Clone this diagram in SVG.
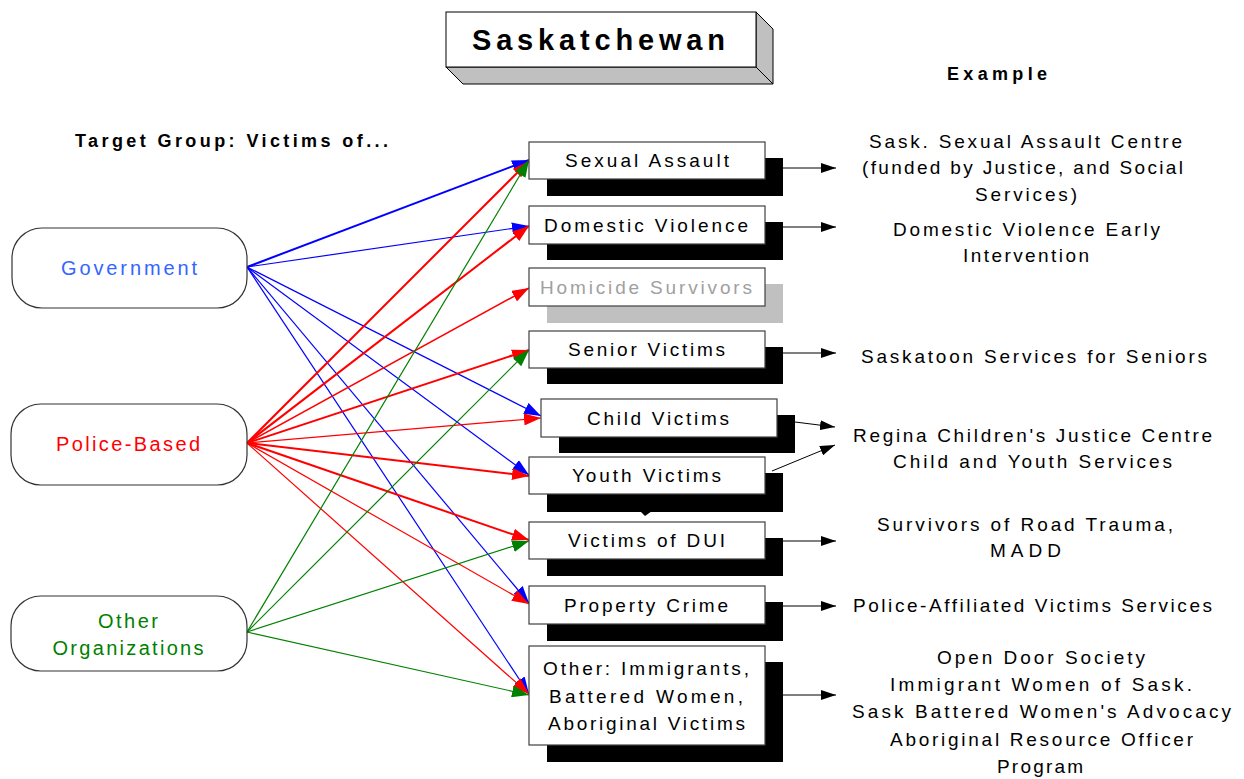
<svg xmlns="http://www.w3.org/2000/svg" width="1244" height="779" viewBox="0 0 1244 779">
  <style>
    text { font-family: "Liberation Sans", Arial, sans-serif; fill: #000; }
    .lbl { font-size: 19px; text-anchor: middle; }
    .src { font-size: 20px; text-anchor: middle; }
    .hdr { font-size: 18px; font-weight: bold; }
    .box { fill: #fff; stroke: #404040; stroke-width: 1.2; }
    .shadow { fill: #000; }
    .pill { fill: #fff; stroke: #333; stroke-width: 1.2; }
    .blue { stroke: #0000ff; fill: none; }
    .red { stroke: #ff0000; fill: none; }
    .green { stroke: #008000; fill: none; }
    .thin { stroke-width: 1.2; }
    .mid { stroke-width: 1.5; }
    .thick { stroke-width: 2; }
    .out { stroke: #000; stroke-width: 1; fill: none; marker-end: url(#ah-black); }
  </style>
  <defs>
    <marker id="ah-blue" markerUnits="userSpaceOnUse" markerWidth="17" markerHeight="12" refX="17" refY="6" orient="auto">
      <path d="M0,0 L17,6 L0,12 z" fill="#0000ff"/>
    </marker>
    <marker id="ah-red" markerUnits="userSpaceOnUse" markerWidth="17" markerHeight="12" refX="17" refY="6" orient="auto">
      <path d="M0,0 L17,6 L0,12 z" fill="#ff0000"/>
    </marker>
    <marker id="ah-green" markerUnits="userSpaceOnUse" markerWidth="17" markerHeight="12" refX="17" refY="6" orient="auto">
      <path d="M0,0 L17,6 L0,12 z" fill="#008000"/>
    </marker>
    <marker id="ah-black" markerUnits="userSpaceOnUse" markerWidth="15" markerHeight="10" refX="15" refY="5" orient="auto">
      <path d="M0,0 L15,5 L0,10 z" fill="#000"/>
    </marker>
  </defs>

  <rect width="1244" height="779" fill="#fff"/>

  <!-- Title block with bevelled depth -->
  <g id="title">
    <polygon points="446,67 756,67 773,84 463,84" fill="#c0c0c0" stroke="#000" stroke-width="1"/>
    <polygon points="756,12 773,29 773,84 756,67" fill="#c0c0c0" stroke="#000" stroke-width="1"/>
    <rect x="446" y="12" width="310" height="55" fill="#fff" stroke="#000" stroke-width="1"/>
    <text x="598.5" y="50" font-size="29" font-weight="bold" text-anchor="middle" textLength="253" lengthAdjust="spacing">Saskatchewan</text>
  </g>

  <!-- Column headings -->
  <g id="headings">
    <text class="hdr" x="75" y="147" textLength="313" lengthAdjust="spacing">Target Group: Victims of...</text>
    <text class="hdr" x="947" y="80" textLength="100" lengthAdjust="spacing">Example</text>
  </g>

  <!-- Connectors -->
  <g id="connectors">
    <!-- Government -->
    <line class="blue thick" x1="247" y1="267" x2="529" y2="160" marker-end="url(#ah-blue)"/>
    <line class="blue thin" x1="247" y1="267" x2="529" y2="226" marker-end="url(#ah-blue)"/>
    <line class="blue thin" x1="247" y1="267" x2="541" y2="416" marker-end="url(#ah-blue)"/>
    <line class="blue thin" x1="247" y1="267" x2="529" y2="475" marker-end="url(#ah-blue)"/>
    <line class="blue thin" x1="247" y1="267" x2="529" y2="603" marker-end="url(#ah-blue)"/>
    <line class="blue thin" x1="247" y1="267" x2="529" y2="694" marker-end="url(#ah-blue)"/>
    <!-- Police-Based -->
    <line class="red thick" x1="247" y1="443" x2="529" y2="161" marker-end="url(#ah-red)"/>
    <line class="red thick" x1="247" y1="443" x2="529" y2="226" marker-end="url(#ah-red)"/>
    <line class="red mid" x1="247" y1="443" x2="529" y2="288" marker-end="url(#ah-red)"/>
    <line class="red thick" x1="247" y1="443" x2="529" y2="350" marker-end="url(#ah-red)"/>
    <line class="red thin" x1="247" y1="443" x2="541" y2="418" marker-end="url(#ah-red)"/>
    <line class="red thick" x1="247" y1="443" x2="529" y2="476" marker-end="url(#ah-red)"/>
    <line class="red thick" x1="247" y1="443" x2="529" y2="540" marker-end="url(#ah-red)"/>
    <line class="red thin" x1="247" y1="443" x2="529" y2="604" marker-end="url(#ah-red)"/>
    <line class="red thin" x1="247" y1="443" x2="529" y2="694" marker-end="url(#ah-red)"/>
    <!-- Other Organizations -->
    <line class="green thin" x1="247" y1="632" x2="529" y2="160" marker-end="url(#ah-green)"/>
    <line class="green thin" x1="247" y1="632" x2="529" y2="350" marker-end="url(#ah-green)"/>
    <line class="green thin" x1="247" y1="632" x2="529" y2="541" marker-end="url(#ah-green)"/>
    <line class="green thin" x1="247" y1="632" x2="529" y2="695" marker-end="url(#ah-green)"/>
    <!-- To examples -->
    <line class="out" x1="783" y1="168" x2="836" y2="168"/>
    <line class="out" x1="783" y1="227" x2="836" y2="227"/>
    <line class="out" x1="783" y1="353" x2="836" y2="353"/>
    <line class="out" x1="795" y1="422" x2="835" y2="427"/>
    <line class="out" x1="772" y1="471" x2="835" y2="445"/>
    <line class="out" x1="783" y1="541" x2="836" y2="541"/>
    <line class="out" x1="783" y1="606" x2="836" y2="606"/>
    <line class="out" x1="783" y1="695" x2="836" y2="695"/>
  </g>

  <!-- Source nodes -->
  <g id="government">
    <rect class="pill" x="12" y="228" width="235" height="80" rx="30" ry="30"/>
    <text class="src" x="129" y="275" style="fill:#3366ff" textLength="136" lengthAdjust="spacing">Government</text>
  </g>
  <g id="police-based">
    <rect class="pill" x="11" y="404" width="236" height="81" rx="30" ry="30"/>
    <text class="src" x="128" y="451" style="fill:#ff0000" textLength="144" lengthAdjust="spacing">Police-Based</text>
  </g>
  <g id="other-organizations">
    <rect class="pill" x="11" y="596" width="236" height="75" rx="30" ry="30"/>
    <text class="src" x="128" y="628" style="fill:#008000" textLength="60" lengthAdjust="spacing">Other</text>
    <text class="src" x="128" y="655" style="fill:#008000" textLength="151" lengthAdjust="spacing">Organizations</text>
  </g>

  <!-- Target groups -->
  <g id="sexual-assault">
    <rect class="shadow" x="547" y="158" width="236" height="38"/>
    <rect class="box" x="529" y="142" width="236" height="37"/>
    <text class="lbl" x="647" y="167" textLength="164" lengthAdjust="spacing">Sexual Assault</text>
  </g>
  <g id="domestic-violence">
    <rect class="shadow" x="547" y="222" width="236" height="38"/>
    <rect class="box" x="529" y="206" width="236" height="38"/>
    <text class="lbl" x="646" y="232" textLength="204" lengthAdjust="spacing">Domestic Violence</text>
  </g>
  <g id="homicide-survivors">
    <rect x="547" y="284" width="236" height="39" fill="#c0c0c0"/>
    <rect class="box" x="529" y="268" width="236" height="38"/>
    <text class="lbl" x="646" y="294" style="fill:#a0a0a0" textLength="212" lengthAdjust="spacing">Homicide Survivors</text>
  </g>
  <g id="senior-victims">
    <rect class="shadow" x="547" y="347" width="236" height="37"/>
    <rect class="box" x="529" y="331" width="236" height="37"/>
    <text class="lbl" x="646.5" y="356" textLength="157" lengthAdjust="spacing">Senior Victims</text>
  </g>
  <g id="child-victims">
    <rect class="shadow" x="559" y="415" width="236" height="38"/>
    <rect class="box" x="541" y="399" width="236" height="38"/>
    <text class="lbl" x="658" y="425" textLength="142" lengthAdjust="spacing">Child Victims</text>
  </g>
  <g id="youth-victims">
    <rect class="shadow" x="547" y="473" width="236" height="39"/>
    <polygon points="640,511 652,511 645,516" fill="#000"/>
    <rect class="box" x="529" y="457" width="236" height="37"/>
    <text class="lbl" x="646.5" y="482" textLength="149" lengthAdjust="spacing">Youth Victims</text>
  </g>
  <g id="victims-of-dui">
    <rect class="shadow" x="547" y="538" width="236" height="38"/>
    <rect class="box" x="529" y="522" width="236" height="37"/>
    <text class="lbl" x="646.5" y="547" textLength="157" lengthAdjust="spacing">Victims of DUI</text>
  </g>
  <g id="property-crime">
    <rect class="shadow" x="547" y="602" width="236" height="39"/>
    <rect class="box" x="529" y="586" width="236" height="38"/>
    <text class="lbl" x="646" y="612" textLength="164" lengthAdjust="spacing">Property Crime</text>
  </g>
  <g id="other-groups">
    <rect class="shadow" x="547" y="662" width="236" height="100"/>
    <rect class="box" x="529" y="646" width="236" height="99"/>
    <text class="lbl" x="646" y="675" textLength="206" lengthAdjust="spacing">Other: Immigrants,</text>
    <text class="lbl" x="646" y="703" textLength="194" lengthAdjust="spacing">Battered Women,</text>
    <text class="lbl" x="646.5" y="730" textLength="197" lengthAdjust="spacing">Aboriginal Victims</text>
  </g>

  <!-- Example programs -->
  <g id="examples">
    <text class="lbl" x="1025.5" y="148" textLength="313" lengthAdjust="spacing">Sask. Sexual Assault Centre</text>
    <text class="lbl" x="1022.5" y="174" textLength="321" lengthAdjust="spacing">(funded by Justice, and Social</text>
    <text class="lbl" x="1026" y="201" textLength="102" lengthAdjust="spacing">Services)</text>
    <text class="lbl" x="1026.5" y="236" textLength="267" lengthAdjust="spacing">Domestic Violence Early</text>
    <text class="lbl" x="1026" y="262" textLength="126" lengthAdjust="spacing">Intervention</text>
    <text class="lbl" x="1034" y="363" textLength="346" lengthAdjust="spacing">Saskatoon Services for Seniors</text>
    <text class="lbl" x="1032.5" y="442" textLength="359" lengthAdjust="spacing">Regina Children's Justice Centre</text>
    <text class="lbl" x="1032.5" y="468" textLength="279" lengthAdjust="spacing">Child and Youth Services</text>
    <text class="lbl" x="1025" y="531" textLength="296" lengthAdjust="spacing">Survivors of Road Trauma,</text>
    <text class="lbl" x="1025.5" y="557" textLength="71" lengthAdjust="spacing">MADD</text>
    <text class="lbl" x="1032.5" y="612" textLength="359" lengthAdjust="spacing">Police-Affiliated Victims Services</text>
    <text class="lbl" x="1041" y="664" textLength="208" lengthAdjust="spacing">Open Door Society</text>
    <text class="lbl" x="1041" y="691" textLength="302" lengthAdjust="spacing">Immigrant Women of Sask.</text>
    <text class="lbl" x="1041.5" y="718" textLength="379" lengthAdjust="spacing">Sask Battered Women's Advocacy</text>
    <text class="lbl" x="1041.5" y="746" textLength="303" lengthAdjust="spacing">Aboriginal Resource Officer</text>
    <text class="lbl" x="1040" y="773" textLength="86" lengthAdjust="spacing">Program</text>
  </g>
</svg>
